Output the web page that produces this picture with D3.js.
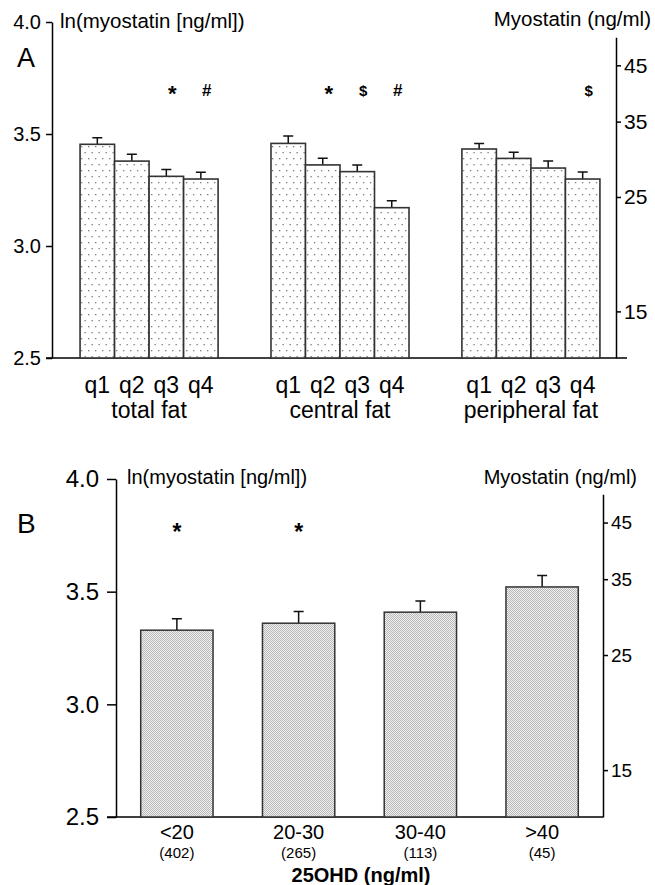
<!DOCTYPE html>
<html>
<head>
<meta charset="utf-8">
<script src="https://cdn.jsdelivr.net/npm/d3@7"></script>
<style>
  body { margin: 0; background: #fff; }
  svg { font-family: "Liberation Sans", Arial, sans-serif; }
  .axis path, .axis line { stroke: #000; stroke-width: 1.5; }
  .axis text { fill: #000; }
</style>
</head>
<body>
<div id="chart"></div>
<script>
// ---- data ----
var groupsA = ["total fat", "central fat", "peripheral fat"];
var quartiles = ["q1", "q2", "q3", "q4"];
var meansA = [
    [3.454, 3.379, 3.311, 3.299],
    [3.458, 3.362, 3.332, 3.171],
    [3.433, 3.391, 3.348, 3.299]
];
var seA = [
    [0.029, 0.031, 0.031, 0.030],
    [0.033, 0.030, 0.030, 0.031],
    [0.025, 0.028, 0.031, 0.031]
];
var marksA = [
    ["", "", "*", "#"],
    ["", "*", "$", "#"],
    ["", "", "", "$"]
];

var catsB = ["<20", "20-30", "30-40", ">40"];
var countsB = ["(402)", "(265)", "(113)", "(45)"];
var meansB = [3.329, 3.360, 3.409, 3.521];
var seB = [0.051, 0.052, 0.050, 0.051];
var marksB = ["*", "*", "", ""];

var lnTicks = [2.5, 3.0, 3.5, 4.0];
var ngTicks = [15, 25, 35, 45];
var ngTop = 51;

var W = 655, H = 885;

var svg = d3.select("#chart").append("svg")
    .attr("width", W)
    .attr("height", H);

var defs = svg.append("defs");

// sparse dots for panel A
var patA = defs.append("pattern")
    .attr("id", "dotsA")
    .attr("patternUnits", "userSpaceOnUse")
    .attr("width", 7)
    .attr("height", 12);
patA.append("rect").attr("width", 7).attr("height", 12).attr("fill", "#fff");
patA.append("rect").attr("x", 1).attr("y", 2).attr("width", 1.3).attr("height", 1.3).attr("fill", "#777");
patA.append("rect").attr("x", 4.5).attr("y", 8).attr("width", 1.3).attr("height", 1.3).attr("fill", "#777");

// fine stipple for panel B
var patB = defs.append("pattern")
    .attr("id", "dotsB")
    .attr("patternUnits", "userSpaceOnUse")
    .attr("width", 2)
    .attr("height", 2);
patB.append("rect").attr("width", 2).attr("height", 2).attr("fill", "#f0f0f0");
patB.append("rect").attr("x", 0).attr("y", 0).attr("width", 1).attr("height", 1).attr("fill", "#b8b8b8");
patB.append("rect").attr("x", 1).attr("y", 1).attr("width", 1).attr("height", 1).attr("fill", "#b8b8b8");

// ================= Panel A =================
var yA = d3.scaleLinear().domain([2.5, 4.0]).range([358, 22]);
var xA = d3.scaleBand().domain(groupsA).range([52, 628])
    .paddingInner(0.277).paddingOuter(0.147);
var xqA = d3.scaleBand().domain(quartiles).range([0, xA.bandwidth()]);
var ngA = d3.scaleLog().domain([Math.exp(2.5), ngTop])
    .range([yA(2.5), yA(Math.log(ngTop))]);

var gA = svg.append("g");

gA.append("g")
    .attr("class", "axis")
    .attr("transform", "translate(52,0)")
    .style("font-size", "20px")
    .call(d3.axisLeft(yA).tickValues(lnTicks).tickFormat(d3.format(".1f"))
        .tickSize(6).tickSizeOuter(0).tickPadding(5));

gA.append("g")
    .attr("class", "axis")
    .attr("transform", "translate(616,0)")
    .style("font-size", "21px")
    .call(d3.axisRight(ngA).tickValues(ngTicks).tickFormat(d3.format("d"))
        .tickSize(5).tickSizeOuter(0).tickPadding(3));

gA.append("line")
    .attr("x1", 46).attr("x2", 627)
    .attr("y1", yA(2.5)).attr("y2", yA(2.5))
    .attr("stroke", "#000").attr("stroke-width", 1.5);

var grpA = gA.selectAll(".grpA")
    .data(groupsA)
    .enter()
    .append("g")
    .attr("class", "grpA")
    .attr("transform", function (d) { return "translate(" + xA(d) + ",0)"; });

grpA.selectAll("path.err")
    .data(function (d, i) { return quartiles.map(function (q, j) { return {q: q, m: meansA[i][j], se: seA[i][j]}; }); })
    .enter()
    .append("path")
    .attr("d", function (d) {
        var cx = xqA(d.q) + xqA.bandwidth() / 2;
        var top = yA(d.m + d.se);
        return "M" + cx + "," + yA(d.m) + "V" + top + "M" + (cx - 5) + "," + top + "H" + (cx + 5);
    })
    .attr("stroke", "#111")
    .attr("stroke-width", 1.5)
    .attr("fill", "none");

grpA.selectAll("rect.bar")
    .data(function (d, i) { return quartiles.map(function (q, j) { return {q: q, m: meansA[i][j]}; }); })
    .enter()
    .append("rect")
    .attr("class", "bar")
    .attr("x", function (d) { return xqA(d.q); })
    .attr("y", function (d) { return yA(d.m); })
    .attr("width", xqA.bandwidth())
    .attr("height", function (d) { return yA(2.5) - yA(d.m); })
    .attr("fill", "url(#dotsA)")
    .attr("stroke", "#333")
    .attr("stroke-width", 1.6);

grpA.selectAll("text.mk")
    .data(function (d, i) { return quartiles.map(function (q, j) { return {q: q, mk: marksA[i][j]}; }); })
    .enter()
    .append("text")
    .attr("x", function (d) { return xqA(d.q) + xqA.bandwidth() / 2 + 6; })
    .attr("y", function (d) { return d.mk === "*" ? 101 : 96; })
    .attr("text-anchor", "middle")
    .style("font-weight", "bold")
    .style("font-size", function (d) { return d.mk === "*" ? "22px" : (d.mk === "#" ? "17px" : "15px"); })
    .text(function (d) { return d.mk; });

grpA.selectAll("text.q")
    .data(quartiles)
    .enter()
    .append("text")
    .attr("x", function (d) { return xqA(d) + xqA.bandwidth() / 2; })
    .attr("y", 393)
    .attr("text-anchor", "middle")
    .style("font-size", "23px")
    .text(function (d) { return d; });

grpA.append("text")
    .attr("x", xA.bandwidth() / 2)
    .attr("y", 418)
    .attr("text-anchor", "middle")
    .style("font-size", "23px")
    .text(function (d) { return d; });

gA.append("text").attr("x", 60).attr("y", 28).style("font-size", "20.5px")
    .text("ln(myostatin [ng/ml])");
gA.append("text").attr("x", 651).attr("y", 26).attr("text-anchor", "end").style("font-size", "20.5px")
    .text("Myostatin (ng/ml)");
gA.append("text").attr("x", 17).attr("y", 67).style("font-size", "27px")
    .text("A");

// ================= Panel B =================
var yB = d3.scaleLinear().domain([2.5, 4.0]).range([817, 479]);
var xB = d3.scaleBand().domain(catsB).range([116, 603])
    .paddingInner(0.406).paddingOuter(0.203);
var ngB = d3.scaleLog().domain([Math.exp(2.5), ngTop])
    .range([yB(2.5), yB(Math.log(ngTop))]);

var gB = svg.append("g");

gB.append("g")
    .attr("class", "axis")
    .attr("transform", "translate(116,0)")
    .style("font-size", "24px")
    .call(d3.axisLeft(yB).tickValues(lnTicks).tickFormat(d3.format(".1f"))
        .tickSize(9).tickSizeOuter(0).tickPadding(8));

gB.append("g")
    .attr("class", "axis")
    .attr("transform", "translate(603,0)")
    .style("font-size", "19px")
    .call(d3.axisRight(ngB).tickValues(ngTicks).tickFormat(d3.format("d"))
        .tickSize(5).tickSizeOuter(0).tickPadding(3));

gB.append("line")
    .attr("x1", 107).attr("x2", 603)
    .attr("y1", yB(2.5)).attr("y2", yB(2.5))
    .attr("stroke", "#000").attr("stroke-width", 1.5);

var dataB = catsB.map(function (c, i) {
    return {c: c, n: countsB[i], m: meansB[i], se: seB[i], mk: marksB[i]};
});

gB.selectAll("path.err")
    .data(dataB)
    .enter()
    .append("path")
    .attr("d", function (d) {
        var cx = xB(d.c) + xB.bandwidth() / 2;
        var top = yB(d.m + d.se);
        return "M" + cx + "," + yB(d.m) + "V" + top + "M" + (cx - 5) + "," + top + "H" + (cx + 5);
    })
    .attr("stroke", "#111")
    .attr("stroke-width", 1.5)
    .attr("fill", "none");

gB.selectAll("rect.bar")
    .data(dataB)
    .enter()
    .append("rect")
    .attr("x", function (d) { return xB(d.c); })
    .attr("y", function (d) { return yB(d.m); })
    .attr("width", xB.bandwidth())
    .attr("height", function (d) { return yB(2.5) - yB(d.m); })
    .attr("fill", "url(#dotsB)")
    .attr("stroke", "#333")
    .attr("stroke-width", 1.5);

gB.selectAll("text.mk")
    .data(dataB)
    .enter()
    .append("text")
    .attr("x", function (d) { return xB(d.c) + xB.bandwidth() / 2; })
    .attr("y", 540)
    .attr("text-anchor", "middle")
    .style("font-weight", "bold")
    .style("font-size", "23px")
    .text(function (d) { return d.mk; });

gB.selectAll("text.cat")
    .data(dataB)
    .enter()
    .append("text")
    .attr("x", function (d) { return xB(d.c) + xB.bandwidth() / 2; })
    .attr("y", 839)
    .attr("text-anchor", "middle")
    .style("font-size", "20px")
    .text(function (d) { return d.c; });

gB.selectAll("text.n")
    .data(dataB)
    .enter()
    .append("text")
    .attr("x", function (d) { return xB(d.c) + xB.bandwidth() / 2; })
    .attr("y", 858)
    .attr("text-anchor", "middle")
    .style("font-size", "15px")
    .text(function (d) { return d.n; });

gB.append("text").attr("x", 361).attr("y", 882).attr("text-anchor", "middle")
    .style("font-size", "20px").style("font-weight", "bold")
    .text("25OHD (ng/ml)");
gB.append("text").attr("x", 127).attr("y", 484).style("font-size", "20px")
    .text("ln(myostatin [ng/ml])");
gB.append("text").attr("x", 637).attr("y", 484).attr("text-anchor", "end").style("font-size", "20px")
    .text("Myostatin (ng/ml)");
gB.append("text").attr("x", 17).attr("y", 533).style("font-size", "28px")
    .text("B");
</script>
</body>
</html>
